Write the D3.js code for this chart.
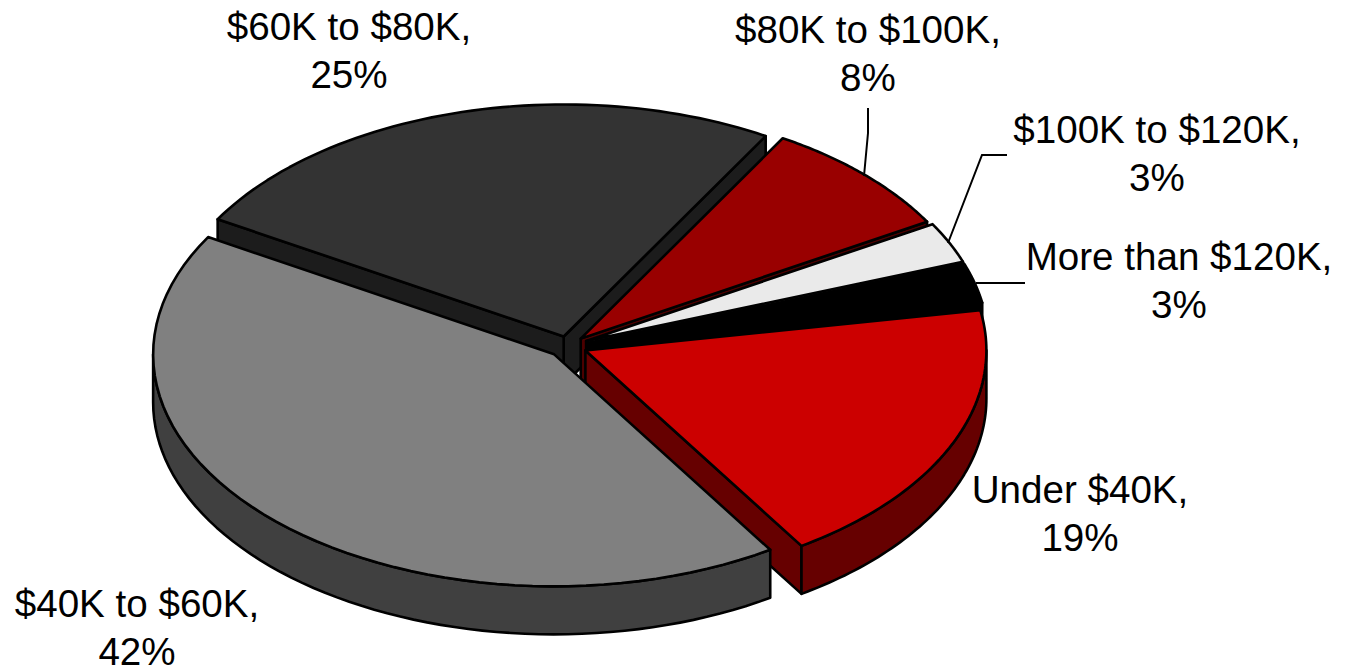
<!DOCTYPE html>
<html>
<head>
<meta charset="utf-8">
<script src="https://cdnjs.cloudflare.com/ajax/libs/d3/7.8.5/d3.min.js"></script>
<style>
  html, body { margin: 0; padding: 0; background: #fff; }
  svg { display: block; }
  text { font-family: "Liberation Sans", Arial, sans-serif; font-size: 38.6px; fill: #000; }
</style>
</head>
<body>
<div id="chart"></div>
<script>
// data, clockwise from the first slice (shares are rounded in the labels)
var categories = ["Under $40K", "$40K to $60K", "$60K to $80K", "$80K to $100K", "$100K to $120K", "More than $120K"];
var shares = [18.72, 42.49, 24.97, 8.19, 2.85, 2.78];
var topColors = ["#cc0000", "#808080", "#333333", "#990000", "#eaeaea", "#000000"];
var wallColors = ["#660000", "#404040", "#1c1c1c", "#4d0000", "#757575", "#000000"];
// how far each slice is pulled out, in px of the flat pie
var explode = [19, 20, 17, 18, 20, 20];

var width = 1346, height = 668;
var cx = 568, cy = 346;
var rx = 401, ry = 232, depth = 48;
var startDeg = 80;

var labelPos = [[1080, 503], [137, 617], [349, 40], [868, 43], [1157, 143], [1179, 270]];
var leaders = [
    null, null, null,
    [[868, 108], [868, 133], [864, 176]],
    [[1007, 155], [982, 155], [948, 243]],
    [[1025, 283], [976, 283]]
];

var svg = d3.select("#chart").append("svg")
    .attr("width", width)
    .attr("height", height);

var pie = d3.pie().sort(null)
    .startAngle(startDeg * Math.PI / 180)
    .endAngle(startDeg * Math.PI / 180 + 2 * Math.PI);

var line = d3.line();
var slices = pie(shares);

// flat pie -> screen
function project(d, t, r, dz) {
    var mid = (d.startAngle + d.endAngle) / 2;
    var e = explode[d.index];
    return [
        cx + e * Math.sin(mid) + r * rx * Math.sin(t),
        cy - (e * ry / rx) * Math.cos(mid) - r * ry * Math.cos(t) + dz
    ];
}

function rim(d, a0, a1, dz) {
    return d3.range(0, 61).map(function(i) {
        return project(d, a0 + (a1 - a0) * i / 60, 1, dz);
    });
}

function cutWall(d, t) {
    return line([project(d, t, 0, 0), project(d, t, 1, 0), project(d, t, 1, depth), project(d, t, 0, depth)]) + "Z";
}

// a cut face shows only when it turns towards the viewer
function cutWalls(d) {
    var out = "";
    if (Math.sin(d.startAngle) < 0) out += cutWall(d, d.startAngle);
    if (Math.sin(d.endAngle) > 0) out += cutWall(d, d.endAngle);
    return out;
}

// only the part of the rim between 90 and 270 degrees (also one turn on) faces the viewer
function outerWall(d) {
    var out = "";
    [0, 2 * Math.PI].forEach(function(turn) {
        var a0 = Math.max(d.startAngle, Math.PI / 2 + turn);
        var a1 = Math.min(d.endAngle, 3 * Math.PI / 2 + turn);
        if (a1 <= a0) return;
        out += line(rim(d, a0, a1, 0).concat(rim(d, a1, a0, depth))) + "Z";
    });
    return out;
}

function topFace(d) {
    return line([project(d, 0, 0, 0)].concat(rim(d, d.startAngle, d.endAngle, 0))) + "Z";
}

// painter's order, back slices first
var order = [2, 3, 4, 5, 0, 1];

var g = svg.selectAll("g.slice")
    .data(order.map(function(i) { return slices[i]; }))
    .enter().append("g")
    .attr("class", "slice")
    .attr("stroke", "#000")
    .attr("stroke-width", 2.6)
    .attr("stroke-linejoin", "round");

g.append("path")
    .attr("d", cutWalls)
    .attr("fill", function(d) { return wallColors[d.index]; });

g.append("path")
    .attr("d", outerWall)
    .attr("fill", function(d) { return wallColors[d.index]; });

g.append("path")
    .attr("d", topFace)
    .attr("fill", function(d) { return topColors[d.index]; });

svg.selectAll("path.leader")
    .data(leaders.filter(function(d) { return d; }))
    .enter().append("path")
    .attr("class", "leader")
    .attr("d", line)
    .attr("fill", "none")
    .attr("stroke", "#000")
    .attr("stroke-width", 2);

var label = svg.selectAll("text.label")
    .data(categories)
    .enter().append("text")
    .attr("class", "label")
    .attr("text-anchor", "middle")
    .attr("x", function(d, i) { return labelPos[i][0]; })
    .attr("y", function(d, i) { return labelPos[i][1]; });

label.append("tspan")
    .attr("x", function(d, i) { return labelPos[i][0]; })
    .text(function(d) { return d + ","; });

label.append("tspan")
    .attr("x", function(d, i) { return labelPos[i][0]; })
    .attr("dy", 48)
    .text(function(d, i) { return Math.round(shares[i]) + "%"; });
</script>
</body>
</html>
